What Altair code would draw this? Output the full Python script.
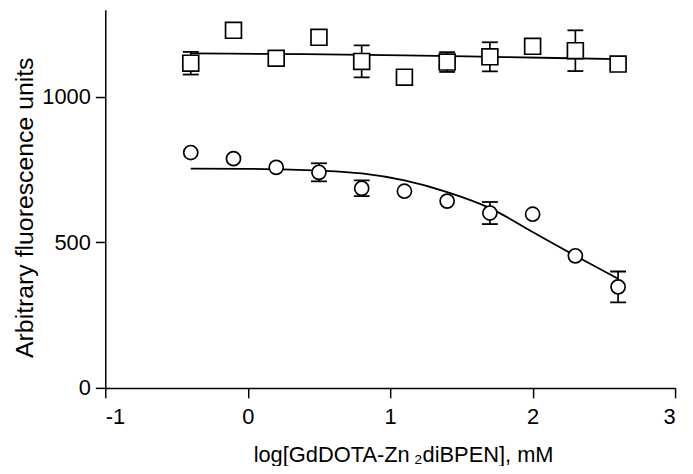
import altair as alt
import pandas as pd

# Square series (top)
sq_x = [-0.4, -0.1, 0.2, 0.5, 0.8, 1.1, 1.4, 1.7, 2.0, 2.3, 2.6]
sq_y = [1116, 1229, 1133, 1205, 1122, 1068, 1120, 1138, 1174, 1159, 1113]
sq_err = [39, 0, 25, 0, 55, 0, 34, 50, 0, 70, 0]

# Circle series (bottom)
ci_x = [-0.4, -0.1, 0.2, 0.5, 0.8, 1.1, 1.4, 1.7, 2.0, 2.3, 2.6]
ci_y = [809, 788, 758, 741, 686, 676, 642, 601, 597, 454, 347]
ci_err = [0, 0, 0, 31, 27, 0, 0, 38, 0, 0, 53]

# Fitted curves
sq_fit_x = [-0.4, 0.4, 1.1, 1.8, 2.6]
sq_fit_y = [1150, 1147, 1143, 1137, 1130]
ci_fit_x = [-0.4, 0.0, 0.5, 0.8, 1.1, 1.4, 1.7, 2.0, 2.3, 2.6]
ci_fit_y = [754, 753, 747, 737, 713, 673, 618, 536, 454, 375]

x_ticks = [-1, 0, 1, 2, 3]
y_ticks = [0, 500, 1000]

pts = pd.DataFrame({
    "x": sq_x + ci_x,
    "y": sq_y + ci_y,
    "err": sq_err + ci_err,
    "series": ["sq"] * len(sq_x) + ["ci"] * len(ci_x),
})
pts["lo"] = pts["y"] - pts["err"]
pts["hi"] = pts["y"] + pts["err"]
errs = pts[pts["err"] > 0]

fit = pd.DataFrame({
    "x": sq_fit_x + ci_fit_x,
    "y": sq_fit_y + ci_fit_y,
    "series": ["sq"] * len(sq_fit_x) + ["ci"] * len(ci_fit_x),
})

FONT = "Liberation Sans"

xs = alt.Scale(domain=[-1, 3], nice=False, zero=False)
ys = alt.Scale(domain=[0, 1300], nice=False, zero=False)

xaxis = alt.Axis(
    values=x_ticks, title="log[GdDOTA-Zn\u2009\u2082diBPEN], mM",
    labelExpr="datum.value + ''",
    titleX=300, titleY=74, titleBaseline="alphabetic", titleAlign="center",
)
yaxis = alt.Axis(
    values=y_ticks, title="Arbitrary fluorescence units",
    labelExpr="datum.value + ''",
    titleX=-73, titleY=199, titleBaseline="alphabetic", titleAlign="center",
)

base_x = alt.X("x:Q", scale=xs, axis=xaxis)
base_y = alt.Y("y:Q", scale=ys, axis=yaxis)

lines = alt.Chart(fit).mark_line(color="black", strokeWidth=1.8, interpolate="monotone").encode(
    x=base_x, y=base_y, detail="series:N"
)

bars = alt.Chart(errs).mark_rule(color="black", strokeWidth=1.7, opacity=1).encode(
    x=alt.X("x:Q", scale=xs), y=alt.Y("lo:Q", scale=ys), y2="hi:Q"
)
cap_lo = alt.Chart(errs).mark_tick(color="black", thickness=1.8, size=16, orient="horizontal", opacity=1).encode(
    x=alt.X("x:Q", scale=xs), y=alt.Y("lo:Q", scale=ys)
)
cap_hi = alt.Chart(errs).mark_tick(color="black", thickness=1.8, size=16, orient="horizontal", opacity=1).encode(
    x=alt.X("x:Q", scale=xs), y=alt.Y("hi:Q", scale=ys)
)

squares = alt.Chart(pts[pts["series"] == "sq"]).mark_point(
    shape="square", size=256, filled=True, fill="white", stroke="black", strokeWidth=1.7, opacity=1
).encode(x=alt.X("x:Q", scale=xs), y=alt.Y("y:Q", scale=ys))

circles = alt.Chart(pts[pts["series"] == "ci"]).mark_point(
    shape="circle", size=201, filled=True, fill="white", stroke="black", strokeWidth=1.7, opacity=1
).encode(x=alt.X("x:Q", scale=xs), y=alt.Y("y:Q", scale=ys))

chart = alt.layer(lines, bars, cap_lo, cap_hi, squares, circles).properties(
    width=574, height=381,
    autosize=alt.AutoSizeParams(type="none"),
    padding={"left": 98, "top": 0, "right": 10, "bottom": 77},
).configure_view(stroke=None).configure_axis(
    grid=False, domainColor="black", domainWidth=1.5, tickColor="black", tickWidth=1.5,
    tickSize=10, labelFont=FONT, labelFontSize=22, labelColor="black",
    titleFont=FONT, titleColor="black", titleFontWeight="normal",
).configure_axisX(labelPadding=9, titleFontSize=22).configure_axisY(labelPadding=5, titleFontSize=25)

chart.save("out.html", embed_options={"renderer": "svg", "actions": False})
